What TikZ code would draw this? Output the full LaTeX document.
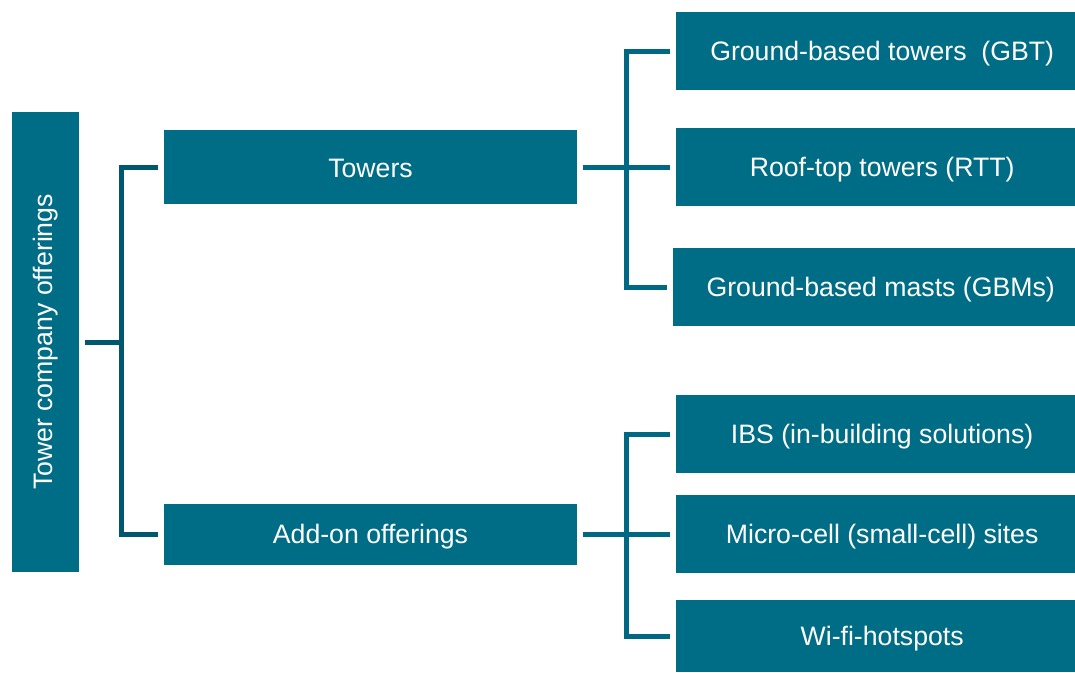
\documentclass[tikz,border=0pt]{standalone}
\usepackage{fontspec}
\setmainfont{Liberation Sans}
\definecolor{boxc}{RGB}{0,109,135}
\definecolor{lconn}{RGB}{0,88,110}
\definecolor{rconn}{RGB}{0,104,130}
\newcommand{\rtxt}[1]{\raisebox{-2.2pt}[\height][\depth]{\hspace*{10pt}#1}}
\newcommand{\mtxt}[1]{\raisebox{-1.2pt}[\height][\depth]{#1}}
\begin{document}
\begin{tikzpicture}[x=0.75pt,y=-0.75pt,
  box/.style={fill=boxc,draw=none,text=white,inner sep=0pt,
    font=\fontsize{20}{24}\selectfont},
  lline/.style={draw=lconn,line width=3.75pt},
  rline/.style={draw=rconn,line width=3.75pt}]
\useasboundingbox (0,0) rectangle (1075,672);
\node[box,minimum width=67*0.75pt,minimum height=460*0.75pt] (left) at (45.5,342) {};
\node[box,rotate=90] at (left.center) {Tower company offerings};
\node[box,minimum width=413*0.75pt,minimum height=74*0.75pt] (towers) at (370.5,167) {\mtxt{Towers}};
\node[box,minimum width=413*0.75pt,minimum height=61*0.75pt] (addon) at (370.5,534.5) {\mtxt{Add-on offerings}};
\node[box,minimum width=399*0.75pt,minimum height=78*0.75pt] (gbt) at (875.5,51) {\rtxt{Ground-based towers\ \ (GBT)}};
\node[box,minimum width=399*0.75pt,minimum height=78*0.75pt] (rtt) at (875.5,167) {\rtxt{Roof-top towers (RTT)}};
\node[box,minimum width=402*0.75pt,minimum height=78*0.75pt] (gbm) at (874,287) {\rtxt{Ground-based masts (GBMs)}};
\node[box,minimum width=399*0.75pt,minimum height=78*0.75pt] (ibs) at (875.5,434) {\rtxt{IBS (in-building solutions)}};
\node[box,minimum width=399*0.75pt,minimum height=78*0.75pt] (micro) at (875.5,534) {\rtxt{Micro-cell (small-cell) sites}};
\node[box,minimum width=399*0.75pt,minimum height=72*0.75pt] (wifi) at (875.5,636) {\rtxt{Wi-fi-hotspots}};
% left connectors
\coordinate (jl) at (121,342);
\draw[lline,shorten <=4.5pt] (left.east) -- (jl);
\draw[lline,shorten >=4.5pt] (jl) |- (towers.west);
\draw[lline,shorten >=4.5pt] (jl) |- (addon.west);
% towers connectors
\coordinate (jt) at (626,167);
\draw[rline,shorten <=4.5pt] (towers.east) -- (jt);
\draw[rline,shorten >=4.5pt] (jt) |- (gbt.west);
\draw[rline,shorten >=4.5pt] (jt) |- (rtt.west);
\draw[rline,shorten >=4.5pt] (jt) |- (gbm.west);
% add-on connectors
\coordinate (ja) at (626,534.5);
\draw[rline,shorten <=4.5pt] (addon.east) -- (ja);
\draw[rline,shorten >=4.5pt] (ja) |- (ibs.west);
\draw[rline,shorten >=4.5pt] (ja) |- (micro.west);
\draw[rline,shorten >=4.5pt] (ja) |- (wifi.west);
\end{tikzpicture}
\end{document}
